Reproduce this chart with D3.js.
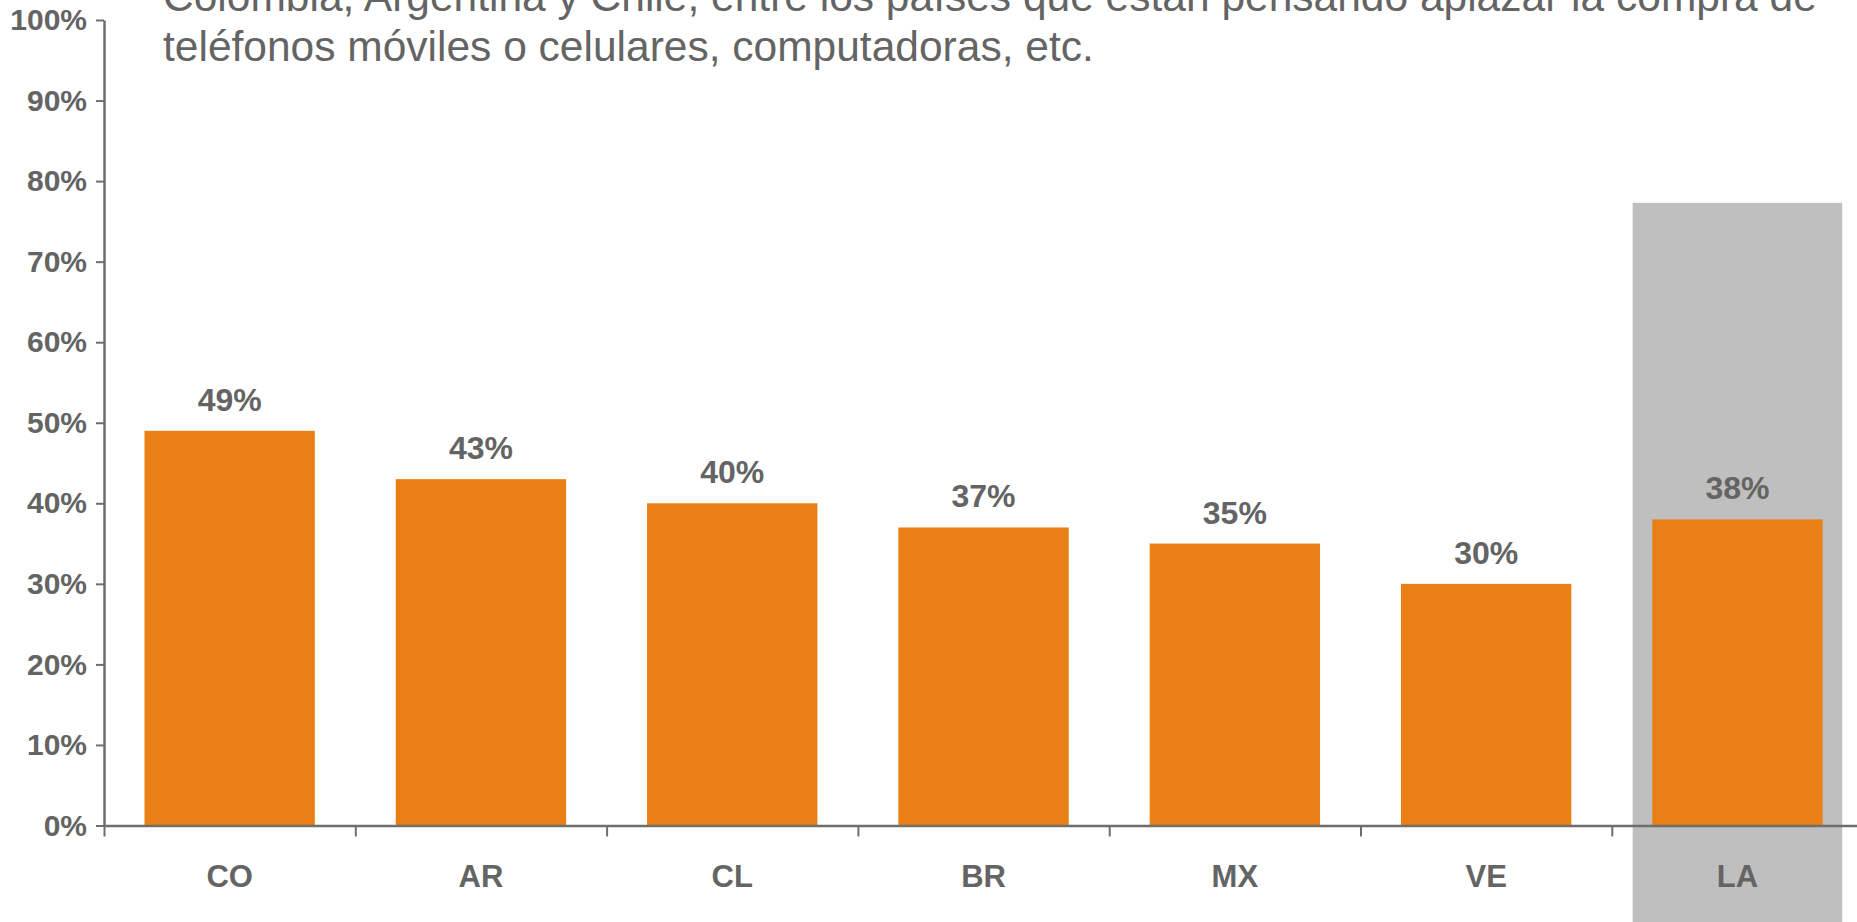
<!DOCTYPE html>
<html>
<head>
<meta charset="utf-8">
<script src="https://cdn.jsdelivr.net/npm/d3@7"></script>
<style>
  html, body { margin: 0; padding: 0; background: #ffffff; overflow: hidden; }
  svg { display: block; font-family: "Liberation Sans", Arial, sans-serif; }
</style>
</head>
<body>
<svg id="chart" width="1857" height="922"></svg>
<script>
// Share of respondents thinking of postponing purchases of phones, computers, etc.
const categories = ["CO", "AR", "CL", "BR", "MX", "VE", "LA"];
const values = [0.49, 0.43, 0.40, 0.37, 0.35, 0.30, 0.38];
const highlighted = ["LA"];          // regional total, shaded column
const highlightTop = 0.773;         // top of the shaded column, on the value scale
const yTicks = [0, 0.1, 0.2, 0.3, 0.4, 0.5, 0.6, 0.7, 0.8, 0.9, 1.0];
const titleLines = [
  "Colombia, Argentina y Chile, entre los países que están pensando aplazar la compra de",
  "teléfonos móviles o celulares, computadoras, etc."
];

const W = 1857, H = 922;
const plotLeft = 104, plotBottom = 825.5, plotTop = 20, step = 251.3;
const textColor = "#646464";
const axisColor = "#6e6e6e";
const barColor = "#ea8015";
const shadeColor = "#bfbfbf";

const svg = d3.select("#chart");

const x = d3.scaleBand()
  .domain(categories)
  .range([plotLeft, plotLeft + step * categories.length])
  .paddingInner(0.322)
  .paddingOuter(0.161);

const y = d3.scaleLinear().domain([0, 1]).range([plotBottom, plotTop]);

// Shaded background column behind the regional total
const shadeW = step * 0.834;
svg.append("g").selectAll("rect")
  .data(highlighted)
  .join("rect")
  .attr("x", d => x(d) + x.bandwidth() / 2 - shadeW / 2)
  .attr("y", y(highlightTop))
  .attr("width", shadeW)
  .attr("height", H - y(highlightTop))
  .attr("fill", shadeColor);

// Title
svg.append("g").selectAll("text")
  .data(titleLines)
  .join("text")
  .attr("x", 163)
  .attr("y", (d, i) => 11 + i * 50)
  .attr("fill", textColor)
  .attr("font-size", 42.5)
  .text(d => d);

// Bars
svg.append("g").selectAll("rect")
  .data(categories)
  .join("rect")
  .attr("x", d => x(d))
  .attr("y", (d, i) => y(values[i]))
  .attr("width", x.bandwidth())
  .attr("height", (d, i) => plotBottom - y(values[i]))
  .attr("fill", barColor);

// Value labels
const pct = d3.format(".0%");
svg.append("g").selectAll("text")
  .data(categories)
  .join("text")
  .attr("x", d => x(d) + x.bandwidth() / 2)
  .attr("y", (d, i) => y(values[i]) - 20)
  .attr("text-anchor", "middle")
  .attr("fill", textColor)
  .attr("font-size", 32)
  .attr("font-weight", "bold")
  .text((d, i) => pct(values[i]));

// Y axis
const yAxis = svg.append("g")
  .attr("transform", `translate(${plotLeft},0)`)
  .call(d3.axisLeft(y).tickValues(yTicks).tickFormat(pct).tickSize(8).tickPadding(9).tickSizeOuter(0));
yAxis.select(".domain").attr("stroke", axisColor).attr("stroke-width", 2.5);
yAxis.selectAll(".tick line").attr("stroke", axisColor).attr("stroke-width", 2);
yAxis.selectAll(".tick text")
  .attr("fill", textColor)
  .attr("font-size", 30)
  .attr("font-weight", "bold")
  .attr("font-family", "Liberation Sans, Arial, sans-serif");

// X axis: ticks on band boundaries, labels at band centres
const edges = d3.scaleLinear()
  .domain([0, categories.length])
  .range([plotLeft, plotLeft + step * categories.length]);
const xAxis = svg.append("g")
  .attr("transform", `translate(0,${plotBottom})`)
  .call(d3.axisBottom(edges).tickValues(d3.range(categories.length + 1)).tickFormat("").tickSize(11).tickSizeOuter(0));
xAxis.select(".domain").attr("stroke", axisColor).attr("stroke-width", 2.5);
xAxis.selectAll(".tick line").attr("stroke", axisColor).attr("stroke-width", 2);

svg.append("g").selectAll("text")
  .data(categories)
  .join("text")
  .attr("x", d => x(d) + x.bandwidth() / 2)
  .attr("y", 887)
  .attr("text-anchor", "middle")
  .attr("fill", textColor)
  .attr("font-size", 31)
  .attr("font-weight", "bold")
  .text(d => d);
</script>
</body>
</html>
